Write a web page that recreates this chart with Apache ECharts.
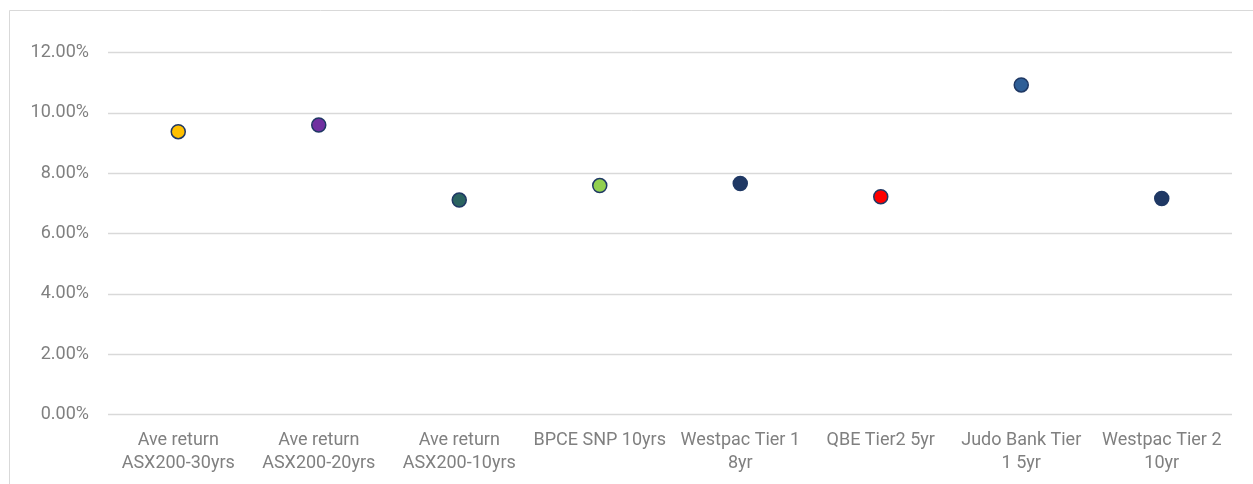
<!DOCTYPE html>
<html>
<head>
<meta charset="utf-8">
<script src="https://cdn.jsdelivr.net/npm/echarts@6/dist/echarts.min.js"></script>
<style>
html,body{margin:0;padding:0;background:#fff;}
#c{width:1253px;height:484px;}
</style>
</head>
<body>
<div id="c"></div>
<script>
const categories = [
  'Ave return\nASX200-30yrs',
  'Ave return\nASX200-20yrs',
  'Ave return\nASX200-10yrs',
  'BPCE SNP 10yrs',
  'Westpac Tier 1\n8yr',
  'QBE Tier2 5yr',
  'Judo Bank Tier\n1 5yr',
  'Westpac Tier 2\n10yr'
];
const returnsPct = [9.38, 9.60, 7.11, 7.59, 7.66, 7.22, 10.93, 7.16];
const yTicks = { min: 0, max: 12, interval: 2 };

const pointColors = ['#ffc000', '#7030a0', '#2a6360', '#92d050', '#1f3864', '#ff0000', '#2f5f97', '#1f3864'];

const chart = echarts.init(document.getElementById('c'), null, { renderer: 'canvas' });
const textColor = '#808080';
chart.setOption({
  animation: false,
  backgroundColor: '#fff',
  textStyle: { fontFamily: 'Roboto' },
  graphic: [{
    type: 'rect',
    shape: { x: 9.5, y: 10.5, width: 1300, height: 600 },
    style: { fill: 'none', stroke: '#d9d9d9', lineWidth: 1 },
    silent: true
  }],
  grid: { left: 108, right: 21, top: 52.7, bottom: 69.7, containLabel: false },
  xAxis: {
    type: 'category',
    data: categories,
    boundaryGap: true,
    axisLine: { show: false },
    axisTick: { show: false },
    splitLine: { show: false },
    axisLabel: {
      interval: 0,
      color: textColor,
      fontSize: 18,
      lineHeight: 23,
      margin: 15,
      fontFamily: 'Roboto'
    }
  },
  yAxis: {
    type: 'value',
    min: yTicks.min,
    max: yTicks.max,
    interval: yTicks.interval,
    axisLine: { show: false },
    axisTick: { show: false },
    splitLine: { show: true, lineStyle: { color: '#d9d9d9', width: 1.3 } },
    axisLabel: {
      color: textColor,
      fontSize: 18,
      margin: 19,
      fontFamily: 'Roboto',
      formatter: v => v.toFixed(2) + '%'
    }
  },
  series: [{
    type: 'scatter',
    symbol: 'circle',
    symbolSize: 14,
    data: returnsPct.map((v, i) => ({
      value: v,
      itemStyle: { color: pointColors[i], borderColor: '#1f3864', borderWidth: 1.5, opacity: 1 }
    }))
  }]
});
</script>
</body>
</html>
